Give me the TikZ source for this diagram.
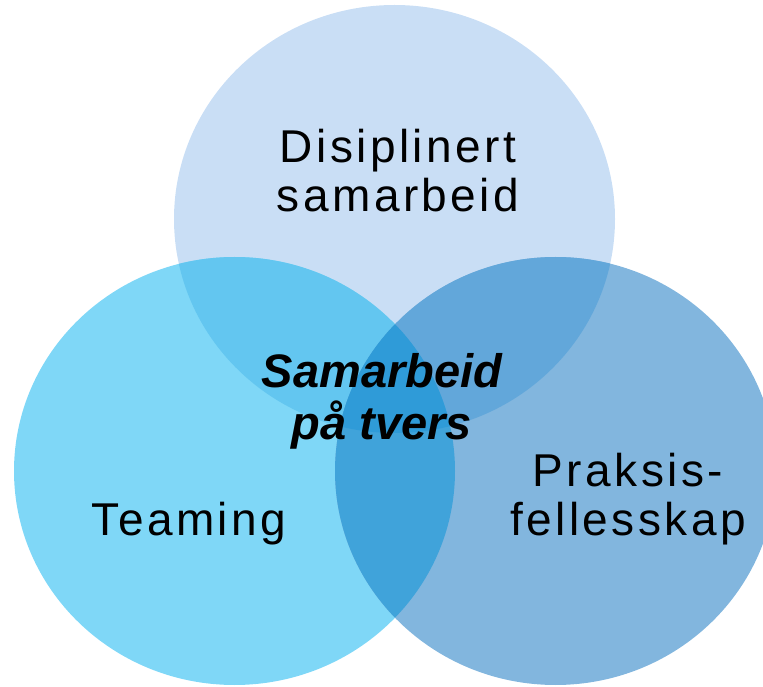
\documentclass[tikz,border=0pt]{standalone}
\usepackage{fontspec}
\setmainfont{Liberation Sans}
\newfontfamily\labelfont[LetterSpace=7.5]{Liberation Sans}
\usetikzlibrary{positioning}

\definecolor{discol}{HTML}{C9DEF5}
\definecolor{teamcol}{HTML}{7FD7F7}
\definecolor{prakcol}{HTML}{82B6DE}
\definecolor{disteam}{HTML}{63C6F0}
\definecolor{disprak}{HTML}{62A7DA}
\definecolor{teamprak}{HTML}{40A3DA}
\definecolor{allcol}{HTML}{2F9BD8}

\tikzset{
  blob/.style={x radius=220.5, y radius=214},
  setlabel/.style={font=\labelfont\fontsize{46pt}{49pt}\selectfont, align=center, anchor=base, inner sep=0pt, text=black},
  corelabel/.style={font=\bfseries\itshape\fontsize{47pt}{52pt}\selectfont, align=center, anchor=base, inner sep=0pt, text=black}
}

\begin{document}
\begin{tikzpicture}[x=1pt,y=1pt]
  \useasboundingbox (0,0) rectangle (763,686);

  % centres of the three sets
  \coordinate (ctop)   at (394.5,467);
  \coordinate (cleft)  at (234.5,215);
  \coordinate (cright) at (555.5,215);

  % single regions
  \fill[discol]  (ctop)   ellipse [blob];
  \fill[teamcol] (cleft)  ellipse [blob];
  \fill[prakcol] (cright) ellipse [blob];

  % pairwise overlaps
  \begin{scope}
    \clip (ctop) ellipse [blob];
    \fill[disteam] (cleft) ellipse [blob];
  \end{scope}
  \begin{scope}
    \clip (ctop) ellipse [blob];
    \fill[disprak] (cright) ellipse [blob];
  \end{scope}
  \begin{scope}
    \clip (cleft) ellipse [blob];
    \fill[teamprak] (cright) ellipse [blob];
  \end{scope}

  % common core
  \begin{scope}
    \clip (ctop) ellipse [blob];
    \clip (cleft) ellipse [blob];
    \fill[allcol] (cright) ellipse [blob];
  \end{scope}

  % labels (base anchor sits on the last line)
  \node[setlabel] (ldis)  at (398,474) {Disiplinert\\samarbeid};
  \node[setlabel] (lteam) at (189,151) {Teaming};
  \node[setlabel] (lprak) at (628,151) {Praksis-\\fellesskap};
  \node[corelabel] (lcore) at (382,246) {Samarbeid\\på tvers};
\end{tikzpicture}
\end{document}
